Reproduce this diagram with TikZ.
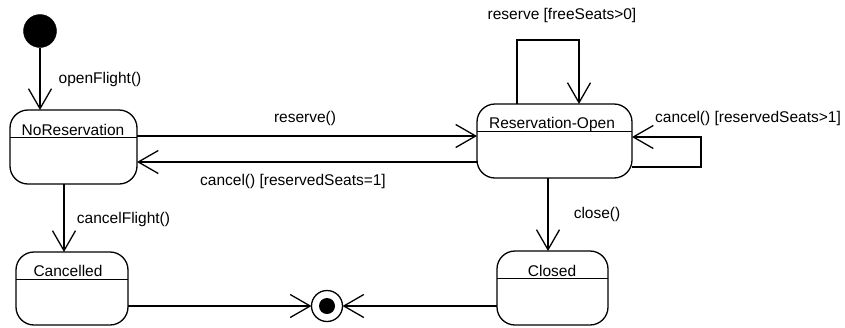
\documentclass[tikz,border=0pt]{standalone}
\usepackage{fontspec}
\setmainfont{Liberation Sans}
\usetikzlibrary{arrows.meta}
\begin{document}
\begin{tikzpicture}[x=1pt,y=-1pt,
  every node/.style={font=\fontsize{15.5}{18}\selectfont, inner sep=0pt, outer sep=0pt},
  statebox/.style={draw, line width=1.3pt, rounded corners=18pt, minimum height=74pt},
  conn/.style={line width=1.3pt},
  arr/.style={conn, -{Straight Barb[length=20pt,width=23pt]}},
  lbl/.style={anchor=base},
  title/.style={anchor=base}]
\useasboundingbox (0,0) rectangle (845,327);

% states
\node[statebox, minimum width=127pt] (nr) at (73.5,147) {};
\node[statebox, minimum width=155pt] (ro) at (554.5,141) {};
\node[statebox, minimum width=112pt, minimum height=73pt] (cc) at (72,288.5) {};
\node[statebox, minimum width=111pt] (cl) at (552.5,288) {};

\foreach \s in {nr,ro,cc,cl}{
  \draw[conn] ([yshift=-27.5pt]\s.north west) -- ([yshift=-27.5pt]\s.north east);
}

\node[title] (tnr) at (73,135) {NoReservation};
\node[title] (tro) at (552,128) {Reservation-Open};
\node[title] (tcc) at (68,276) {Cancelled};
\node[title] (tcl) at (552,276) {Closed};

% initial and final
\node[circle, fill=black, draw=black, minimum size=33pt] (init) at (40,31) {};
\node[circle, draw=black, line width=1.3pt, minimum size=31pt] (fin) at (327,306) {};
\node[circle, fill=black, minimum size=16pt] (fincore) at (fin.center) {};

% transitions
\draw[arr] (init.south) -- (init.south |- nr.north);
\node[lbl] (l1) at (100,83) {openFlight()};

\draw[arr] (nr.east |- 0,136) -- (ro.west |- 0,136);
\node[lbl] (l2) at (305,122) {reserve()};

\draw[arr] (ro.west |- 0,162) -- (nr.east |- 0,162);
\node[lbl] (l3) at (293,185) {cancel() [reservedSeats=1]};

\coordinate (tl) at (517,40);
\coordinate (tr) at (579,40);
\draw[arr] (ro.north -| tl) -- (tl) -- (tr) -- (ro.north -| tr);
\node[lbl] (l4) at (562,19) {reserve [freeSeats>0]};

\coordinate (rb) at (701,167);
\coordinate (rt) at (701,137);
\draw[arr] (ro.east |- rb) -- (rb) -- (rt) -- (ro.east |- rt);
\node[lbl] (l5) at (748,122) {cancel() [reservedSeats>1]};

\coordinate (xc) at (64,0);
\draw[arr] (nr.south -| xc) -- (cc.north -| xc);
\node[lbl] (l6) at (123.5,223) {cancelFlight()};

\coordinate (xr) at (548,0);
\draw[arr] (ro.south -| xr) -- (cl.north -| xr);
\node[lbl] (l7) at (597,218) {close()};

\draw[arr] (cc.east |- fin) -- (fin.west);
\draw[arr] (cl.west |- fin) -- (fin.east);
\end{tikzpicture}
\end{document}
